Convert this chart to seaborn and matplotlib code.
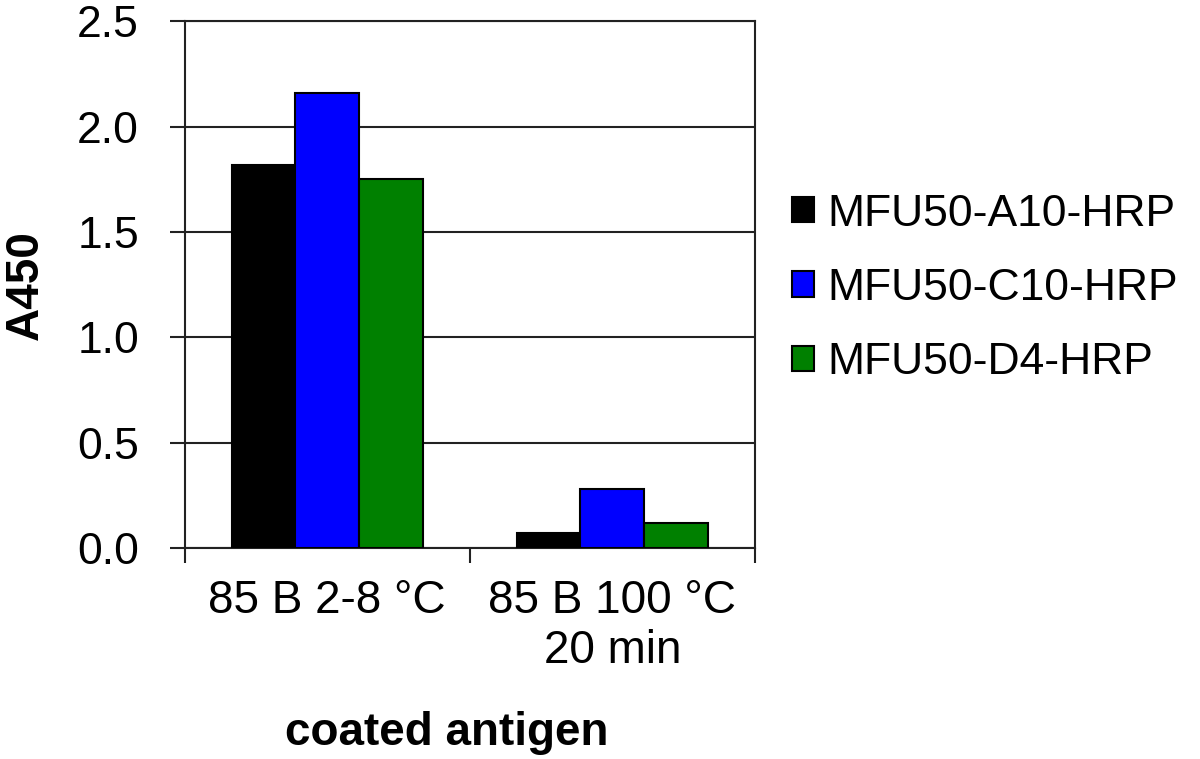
import matplotlib
matplotlib.use("Agg")
import matplotlib.pyplot as plt
import pandas as pd
import seaborn as sns

# values
antigens = ["85 B 2-8 °C", "85 B 100 °C\n20 min"]
conjugates = ["MFU50-A10-HRP", "MFU50-C10-HRP", "MFU50-D4-HRP"]
a10_values = [1.82, 0.07]
c10_values = [2.16, 0.28]
d4_values = [1.75, 0.12]
bar_colors = ["#000000", "#0000FF", "#008000"]

rows = []
for conj, vals in zip(conjugates, [a10_values, c10_values, d4_values]):
    for ag, v in zip(antigens, vals):
        rows.append({"antigen": ag, "conjugate": conj, "A450": v})
df = pd.DataFrame(rows)

sns.set_style("white")
plt.rcParams["font.family"] = ["Liberation Sans", "DejaVu Sans"]
plt.rcParams["text.color"] = "black"
plt.rcParams["axes.labelcolor"] = "black"
plt.rcParams["xtick.color"] = "black"
plt.rcParams["ytick.color"] = "black"

fig = plt.figure(figsize=(12, 7.59), dpi=100)
ax = fig.add_axes([0.154, 0.278, 0.475, 0.694])

sns.barplot(data=df, x="antigen", y="A450", hue="conjugate", order=antigens,
            hue_order=conjugates, palette=bar_colors, width=0.67, saturation=1,
            edgecolor="black", linewidth=1.5, ax=ax, zorder=3)

ax.set_ylim(0, 2.5)
ax.set_xlim(-0.5, 1.5)
ax.set_yticks([0, 0.5, 1.0, 1.5, 2.0, 2.5])
ax.set_yticklabels(["0.0", "0.5", "1.0", "1.5", "2.0", "2.5"])
ax.yaxis.grid(True, color="#222222", linewidth=1.5, zorder=0)
ax.set_axisbelow(True)

# Excel-style category ticks at the boundaries, labels centred in between
ax.set_xticks([-0.5, 0.5, 1.5])
ax.set_xticklabels(["", "", ""])
ax.set_xticks([0, 1], minor=True)
ax.set_xticklabels(antigens, minor=True, fontsize=33)
ax.tick_params(axis="x", which="major", direction="out", length=11, width=1.5,
               color="#222222", bottom=True)
ax.tick_params(axis="x", which="minor", length=0, pad=22)
ax.tick_params(axis="y", direction="out", length=11, width=1.5, color="#222222",
               left=True, labelsize=32, pad=22)

for side in ["left", "bottom", "right", "top"]:
    ax.spines[side].set_visible(True)
    ax.spines[side].set_color("#222222")
    ax.spines[side].set_linewidth(1.5)

ax.set_xlabel("coated antigen", fontsize=33, fontweight="bold")
ax.xaxis.set_label_coords(0.46, -0.31)
ax.set_ylabel("A450", fontsize=33, fontweight="bold")
ax.yaxis.set_label_coords(-0.24, 0.5)

handles, labels = ax.get_legend_handles_labels()
ax.legend(handles, labels, loc="center left", bbox_to_anchor=(0.645, 0.62),
          bbox_transform=fig.transFigure, frameon=False, fontsize=32,
          handlelength=0.5, handleheight=0.5, handletextpad=0.3,
          labelspacing=0.75, borderaxespad=0)

fig.savefig("out.png", dpi=100)
